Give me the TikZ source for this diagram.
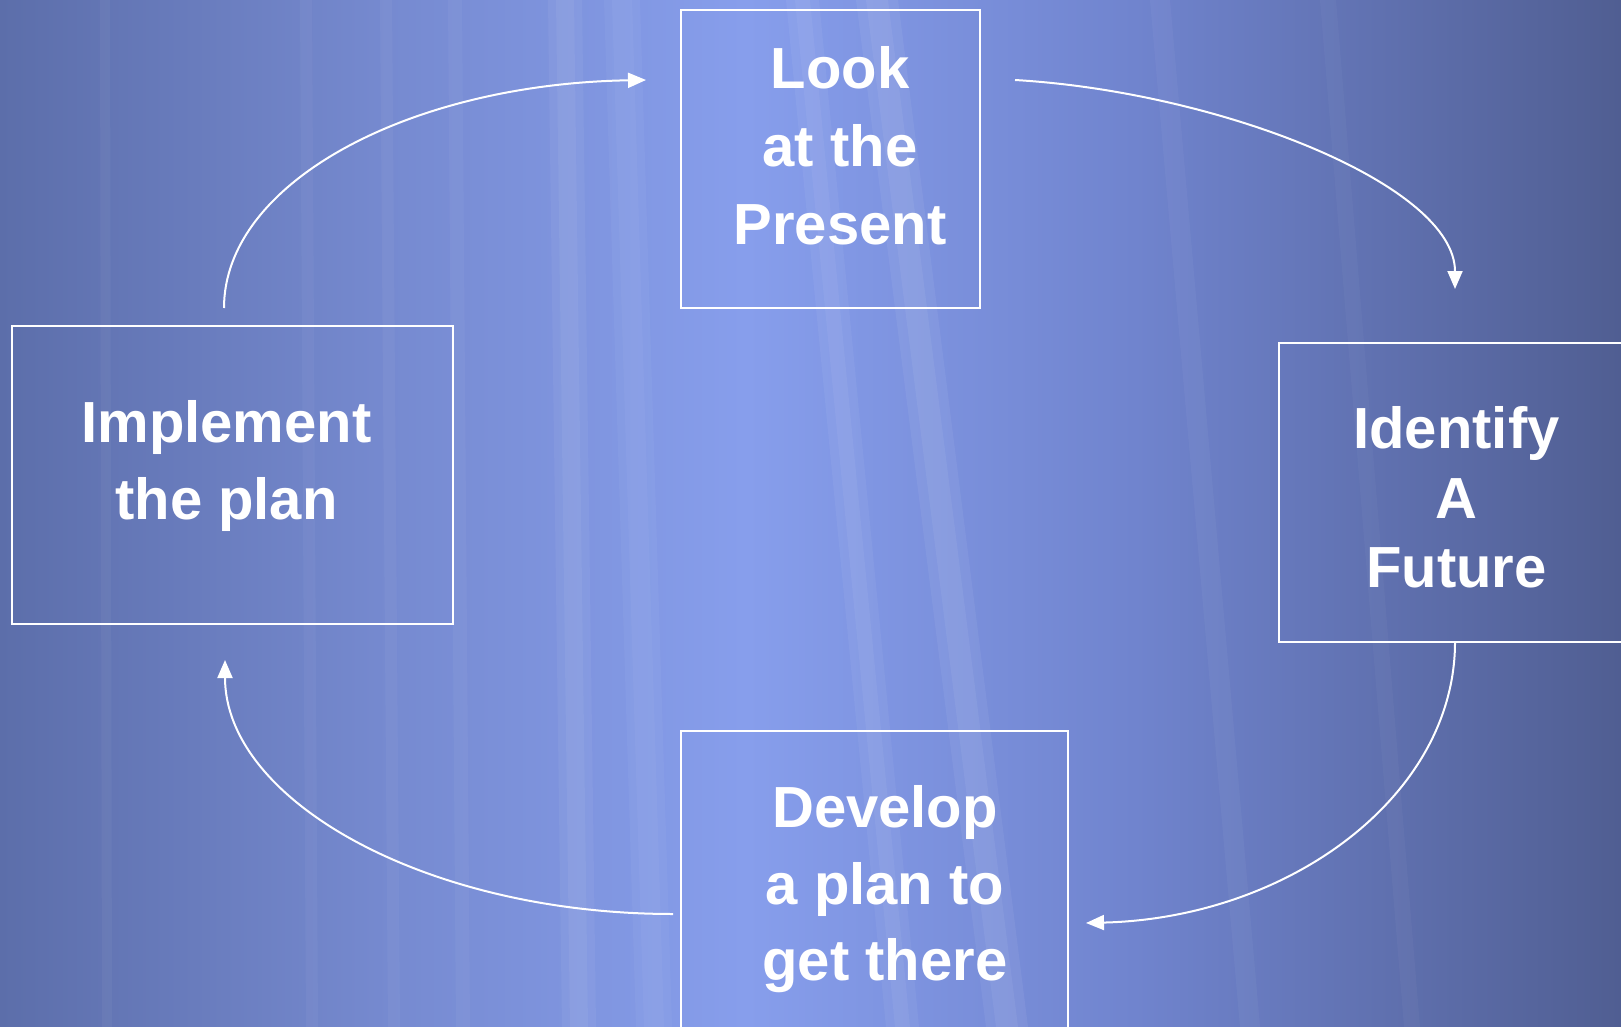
\documentclass[tikz,border=0pt]{standalone}
\usepackage{fontspec}
\setmainfont{Liberation Sans}
\usetikzlibrary{arrows.meta}
\definecolor{bgA}{RGB}{92,110,170}
\definecolor{bgB}{RGB}{118,138,208}
\definecolor{bgC}{RGB}{135,158,236}
\definecolor{bgD}{RGB}{112,132,206}
\definecolor{bgE}{RGB}{80,94,146}
\pgfdeclarehorizontalshading{bgshade}{100bp}{color(0bp)=(bgA); color(25bp)=(bgA); color(37bp)=(bgB); color(48bp)=(bgC); color(60bp)=(bgD); color(75bp)=(bgE); color(100bp)=(bgE)}
\tikzset{
  boxnode/.style={draw=white, line width=2pt, inner sep=0pt, rectangle},
  lbl/.style={text=white, align=center, inner sep=0pt, font=\bfseries},
  conn/.style={draw=white, line width=2pt, -{Triangle[length=18pt,width=15pt]}},
  streak/.style={fill=white, opacity=#1},
}
\begin{document}
\begin{tikzpicture}[x=1pt,y=-1pt]
\useasboundingbox (0,0) rectangle (1621,1027);
\shade[shading=bgshade] (0,0) rectangle (1621,1027);
% light streaks (soft: two layers each)
\fill[streak=0.05] (548,0) -- (582,0) -- (596,1027) -- (562,1027) -- cycle;
\fill[streak=0.05] (556,0) -- (574,0) -- (588,1027) -- (570,1027) -- cycle;
\fill[streak=0.04] (604,0) -- (640,0) -- (672,1027) -- (636,1027) -- cycle;
\fill[streak=0.04] (612,0) -- (632,0) -- (664,1027) -- (644,1027) -- cycle;
\fill[streak=0.05] (786,0) -- (819,0) -- (919,1027) -- (886,1027) -- cycle;
\fill[streak=0.05] (795,0) -- (810,0) -- (910,1027) -- (895,1027) -- cycle;
\fill[streak=0.06] (856,0) -- (898,0) -- (1028,1027) -- (986,1027) -- cycle;
\fill[streak=0.06] (866,0) -- (888,0) -- (1018,1027) -- (996,1027) -- cycle;
\fill[streak=0.04] (300,0) -- (312,0) -- (318,1027) -- (306,1027) -- cycle;
\fill[streak=0.04] (380,0) -- (392,0) -- (400,1027) -- (388,1027) -- cycle;
\fill[streak=0.04] (448,0) -- (462,0) -- (470,1027) -- (456,1027) -- cycle;
\fill[streak=0.04] (1150,0) -- (1170,0) -- (1260,1027) -- (1240,1027) -- cycle;
\fill[streak=0.03] (1320,0) -- (1336,0) -- (1420,1027) -- (1404,1027) -- cycle;
\fill[streak=0.04] (100,0) -- (110,0) -- (112,1027) -- (102,1027) -- cycle;

% boxes
\node[boxnode, minimum width=299pt, minimum height=298pt] (look) at (830.5,159) {};
\node[boxnode, minimum width=441pt, minimum height=298pt] (impl) at (232.5,475) {};
\node[boxnode, minimum width=350pt, minimum height=299pt] (ident) at (1454,492.5) {};
\node[boxnode, minimum width=387pt, minimum height=310pt] (dev) at (874.5,886) {};

% texts
\node[lbl, font=\fontsize{58pt}{78pt}\selectfont\bfseries] (lookt) at (840,146) {Look\\at the\\Present};
\node[lbl, font=\fontsize{58pt}{77pt}\selectfont\bfseries] (implt) at (226.5,466) {Implement\\the plan};
\node[lbl, font=\fontsize{58pt}{69.5pt}\selectfont\bfseries] (identt) at (1456.5,497.5) {Identify\\A\\Future};
\node[lbl, font=\fontsize{58pt}{76.5pt}\selectfont\bfseries] (devt) at (885,889.5) {Develop\\a plan to\\get there};

% connector end points
\coordinate (c1s) at (224,308);
\coordinate (c1e) at (646,80);
\coordinate (c2s) at (1015,80);
\coordinate (c2e) at (1455,289);
\coordinate (c3s) at (1455,642);
\coordinate (c3e) at (1086,923);
\coordinate (c4s) at (673,914);
\coordinate (c4e) at (225,660);

\draw[conn] (c1s) .. controls (224,182) and (410,84) .. (c1e);
\draw[conn] (c2s) .. controls (1220,92) and (1455,185) .. (c2e);
\draw[conn] (c3s) .. controls (1455,796) and (1289,918) .. (c3e);
\draw[conn] (c4s) .. controls (427,914) and (225,801) .. (c4e);
\end{tikzpicture}
\end{document}
